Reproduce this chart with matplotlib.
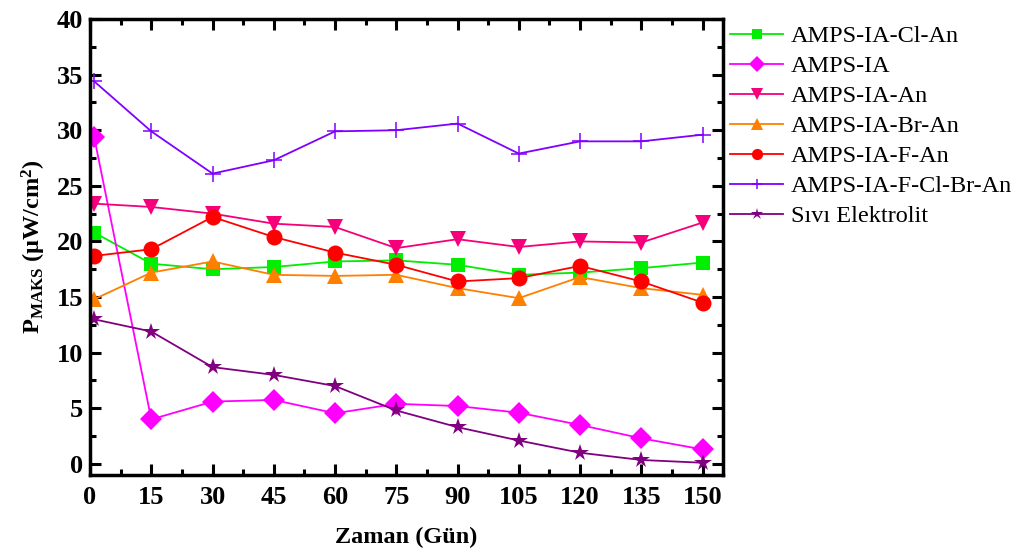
import matplotlib
matplotlib.use("Agg")
import matplotlib.pyplot as plt
from matplotlib.ticker import MultipleLocator

plt.rcParams['font.family'] = ['Liberation Serif', 'DejaVu Serif']
plt.rcParams['mathtext.fontset'] = 'custom'
plt.rcParams['mathtext.rm'] = 'Liberation Serif:bold'
plt.rcParams['mathtext.it'] = 'Liberation Serif:bold'
plt.rcParams['mathtext.bf'] = 'Liberation Serif:bold'

# Measurement days
days = [1, 15, 30, 45, 60, 75, 90, 105, 120, 135, 150]

# Maximum power density (µW/cm²) for each electrolyte
amps_ia_cl_an = [20.8, 18.0, 17.5, 17.7, 18.2, 18.3, 17.9, 17.0, 17.2, 17.6, 18.1]
amps_ia = [29.4, 4.0, 5.6, 5.75, 4.55, 5.4, 5.2, 4.6, 3.5, 2.3, 1.3]
amps_ia_an = [23.4, 23.1, 22.5, 21.6, 21.3, 19.4, 20.2, 19.5, 20.0, 19.9, 21.7]
amps_ia_br_an = [14.8, 17.2, 18.2, 17.0, 16.9, 17.0, 15.8, 14.9, 16.8, 15.8, 15.2]
amps_ia_f_an = [18.7, 19.3, 22.2, 20.4, 19.0, 17.9, 16.4, 16.7, 17.8, 16.4, 14.5]
amps_ia_f_cl_br_an = [34.4, 29.9, 26.1, 27.3, 29.9, 30.0, 30.6, 27.9, 29.0, 29.0, 29.6]
sivi_elektrolit = [13.0, 11.9, 8.7, 8.0, 7.0, 4.8, 3.3, 2.1, 1.0, 0.35, 0.1]

series = [
    ("AMPS-IA-Cl-An", amps_ia_cl_an, "#00ee00", "s", 10),
    ("AMPS-IA", amps_ia, "#ff00ff", "D", 11),
    ("AMPS-IA-An", amps_ia_an, "#f5007a", "v", 12),
    ("AMPS-IA-Br-An", amps_ia_br_an, "#ff7f00", "^", 12),
    ("AMPS-IA-F-An", amps_ia_f_an, "#ff0000", "o", 11.5),
    ("AMPS-IA-F-Cl-Br-An", amps_ia_f_cl_br_an, "#8000ff", "+", 11),
    ("Sıvı Elektrolit", sivi_elektrolit, "#800080", "*", 13),
]

x_ticks = [0, 15, 30, 45, 60, 75, 90, 105, 120, 135, 150]

fig = plt.figure(figsize=(10.22, 5.56), dpi=100)
ax = fig.add_axes([0.0881, 0.1457, 0.6193, 0.8201])

for label, vals, color, marker, ms in series:
    kw = dict(markeredgewidth=1.1) if marker == "+" else dict(markeredgewidth=0)
    ax.plot(days, vals, color=color, marker=marker, markersize=ms, lw=1.3,
            label=label, **kw)

ax.set_xlim(0, 155)
ax.set_ylim(-1, 40)
ax.set_xticks(x_ticks)
ax.xaxis.set_minor_locator(MultipleLocator(7.5))
ax.yaxis.set_major_locator(MultipleLocator(5))
ax.yaxis.set_minor_locator(MultipleLocator(2.5))

ax.tick_params(which='both', direction='in', top=True, right=True, width=2.2,
               labeltop=False, labelright=False)
ax.tick_params(which='major', length=8, labelsize=19)
ax.tick_params(axis='x', which='major', pad=8)
ax.tick_params(axis='y', which='major', pad=5)
ax.tick_params(which='minor', length=4)
for lab in ax.get_xticklabels() + ax.get_yticklabels():
    lab.set_fontweight('bold')
for sp in ax.spines.values():
    sp.set_linewidth(2.5)

ax.set_xlabel("Zaman (Gün)", fontsize=17.5, fontweight='bold', labelpad=13)
ax.set_ylabel(r"P$_{\mathrm{MAKS}}$ (μW/cm$^{\mathrm{2}}$)", fontsize=17.5,
              fontweight='bold', labelpad=6)

fig.legend(loc='upper left', bbox_to_anchor=(0.7143, 0.955), frameon=False,
           fontsize=17.5, handlelength=2.2, handletextpad=0.3, labelspacing=0.33,
           borderpad=0, borderaxespad=0, markerscale=0.7)

fig.savefig("out.png", dpi=100)
